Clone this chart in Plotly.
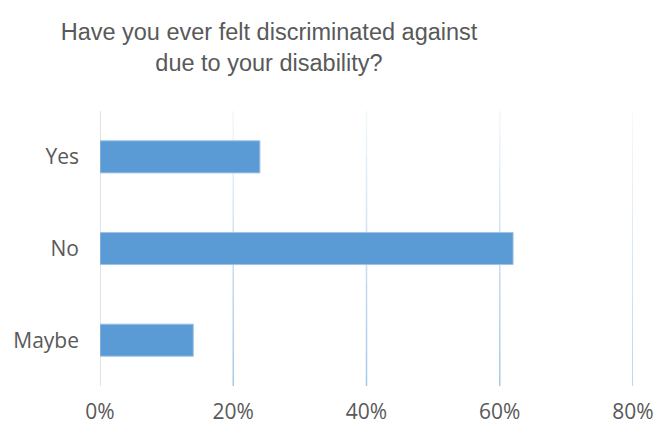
import plotly.graph_objects as go

# Survey responses
categories = ["Yes", "No", "Maybe"]
shares = [0.24, 0.62, 0.14]
tick_values = [0, 0.2, 0.4, 0.6, 0.8]
tick_labels = ["0%", "20%", "40%", "60%", "80%"]

title_text = "Have you ever felt discriminated against<br>due to your disability?"

fig = go.Figure(
    go.Bar(
        y=categories,
        x=shares,
        orientation="h",
        marker=dict(color="#5b9bd5", line=dict(color="#9dc3e6", width=1)),
        width=0.35,
    )
)

# Vertical gridlines fading out toward the top of the plot
steps = 24
shapes = []
for tv in tick_values[1:]:
    for i in range(steps):
        t = i / steps
        alpha = 0.9 - 0.8 * t
        shapes.append(dict(
            type="line", xref="x", yref="paper",
            x0=tv, x1=tv, y0=t, y1=t + 1 / steps,
            line=dict(color=f"rgba(157,195,230,{alpha:.3f})", width=1.5),
            layer="below",
        ))
# Category axis line at zero
shapes.append(dict(
    type="line", xref="x", yref="paper", x0=0, x1=0, y0=0, y1=1,
    line=dict(color="#d9d9d9", width=1.5), layer="below",
))

fig.update_layout(
    width=656, height=425,
    margin=dict(l=100, r=23, t=111, b=39, autoexpand=False),
    paper_bgcolor="white", plot_bgcolor="white",
    showlegend=False,
    title=dict(
        text=title_text,
        x=269 / 656, xanchor="center",
        yref="container", y=0.906, yanchor="top",
        font=dict(family="Liberation Sans, Arial", size=23.5, color="#595959"),
    ),
    xaxis=dict(
        range=[0, 0.8], tickvals=tick_values, ticktext=tick_labels,
        showgrid=False, zeroline=False, showline=False, automargin=False,
        tickfont=dict(family="Open Sans", size=21, color="#595959"),
        ticks="", ticklabelstandoff=11,
    ),
    yaxis=dict(
        categoryorder="array", categoryarray=categories[::-1],
        showgrid=False, zeroline=False, showline=False, automargin=False,
        tickfont=dict(family="Open Sans", size=21, color="#595959"),
        ticks="", ticklabelstandoff=20,
    ),
    shapes=shapes,
)

fig.write_html("out.html")
